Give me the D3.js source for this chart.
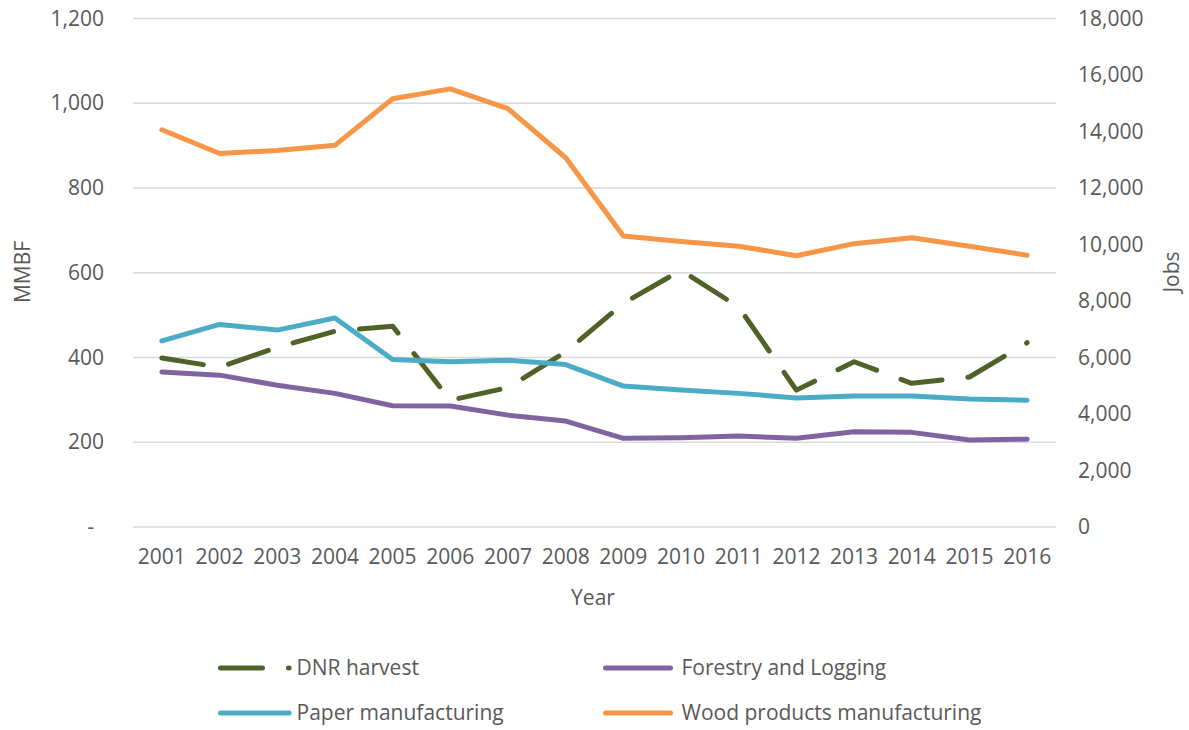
<!DOCTYPE html>
<html>
<head>
<meta charset="utf-8">
<script src="https://cdn.jsdelivr.net/npm/d3@7/dist/d3.min.js"></script>
<style>
  html, body { margin: 0; padding: 0; background: #fff; }
  svg text { font-family: "Open Sans", "Noto Sans", sans-serif; fill: #595959; }
</style>
</head>
<body>
<svg id="chart" width="1189" height="730"></svg>
<script>
// Years on the category axis
const years = ["2001","2002","2003","2004","2005","2006","2007","2008",
               "2009","2010","2011","2012","2013","2014","2015","2016"];

// DNR harvest volume, million board feet (left axis)
const dnrHarvest = [399, 377, 424, 462, 474, 299, 329, 413, 528, 606, 519, 323, 390, 339, 354, 435];

// Employment, jobs (right axis)
const forestryLogging = [5490, 5375, 5020, 4730, 4290, 4280, 3960, 3750, 3140, 3160, 3220, 3140, 3370, 3350, 3080, 3110];
const paperMfg        = [6590, 7170, 6970, 7400, 5930, 5850, 5900, 5750, 4990, 4850, 4730, 4570, 4640, 4640, 4530, 4490];
const woodProductsMfg = [14060, 13220, 13330, 13510, 15160, 15510, 14810, 13070, 10300, 10110, 9940, 9600, 10030, 10240, 9940, 9620];

// Axis ticks
const leftTicks  = [0, 200, 400, 600, 800, 1000, 1200];
const rightTicks = [0, 2000, 4000, 6000, 8000, 10000, 12000, 14000, 16000, 18000];

const FONT = 21;
const svg = d3.select("#chart");

const plot = { left: 133, right: 1056, top: 18.5, bottom: 527 };

const x = d3.scaleBand().domain(years).range([plot.left, plot.right]).padding(0);
const xc = d => x(d) + x.bandwidth() / 2;
const yL = d3.scaleLinear().domain([0, 1200]).range([plot.bottom, plot.top]);
const yR = d3.scaleLinear().domain([0, 18000]).range([plot.bottom, plot.top]);

// Horizontal gridlines
svg.append("g")
  .selectAll("line")
  .data(leftTicks)
  .join("line")
  .attr("x1", plot.left).attr("x2", plot.right)
  .attr("y1", d => yL(d)).attr("y2", d => yL(d))
  .attr("stroke", "#d9d9d9").attr("stroke-width", 1.3);

// Left axis (MMBF)
const leftAxis = d3.axisLeft(yL)
  .tickValues(leftTicks)
  .tickSize(0)
  .tickPadding(0)
  .tickFormat(d => d === 0 ? "-" : d3.format(",")(d));
const gL = svg.append("g").attr("transform", "translate(104,0)").call(leftAxis);
gL.select(".domain").remove();
gL.selectAll("text").attr("font-size", FONT).attr("fill", "#595959")
  .attr("dx", d => d === 0 ? -10 : 0);

// Right axis (Jobs)
const rightAxis = d3.axisRight(yR)
  .tickValues(rightTicks)
  .tickSize(0)
  .tickPadding(0)
  .tickFormat(d => d === 0 ? "0" : d3.format(",")(d));
const gR = svg.append("g").attr("transform", "translate(1078,0)").call(rightAxis);
gR.select(".domain").remove();
gR.selectAll("text").attr("font-size", FONT).attr("fill", "#595959");

// Bottom axis (years)
const bottomAxis = d3.axisBottom(x).tickSize(0).tickPadding(0);
const gB = svg.append("g").attr("transform", "translate(0,549)").call(bottomAxis);
gB.select(".domain").remove();
gB.selectAll("text").attr("font-size", FONT).attr("fill", "#595959");

// Axis titles
svg.append("text")
  .attr("transform", "translate(30,272) rotate(-90)")
  .attr("text-anchor", "middle")
  .attr("font-size", FONT)
  .text("MMBF");
svg.append("text")
  .attr("transform", "translate(1179,272) rotate(-90)")
  .attr("text-anchor", "middle")
  .attr("font-size", FONT)
  .text("Jobs");
svg.append("text")
  .attr("x", 593).attr("y", 605)
  .attr("text-anchor", "middle")
  .attr("font-size", FONT)
  .text("Year");

// Series definitions
const series = [
  { name: "DNR harvest", values: dnrHarvest, scale: yL, color: "#4f6228", dash: "42 26" },
  { name: "Forestry and Logging", values: forestryLogging, scale: yR, color: "#8064a2", dash: null },
  { name: "Paper manufacturing", values: paperMfg, scale: yR, color: "#4bacc6", dash: null },
  { name: "Wood products manufacturing", values: woodProductsMfg, scale: yR, color: "#f79646", dash: null }
];

const linesG = svg.append("g");
series.forEach(s => {
  const line = d3.line()
    .x((d, i) => xc(years[i]))
    .y(d => s.scale(d));
  linesG.append("path")
    .datum(s.values)
    .attr("d", line)
    .attr("fill", "none")
    .attr("stroke", s.color)
    .attr("stroke-width", 5)
    .attr("stroke-linejoin", "round")
    .attr("stroke-linecap", "round")
    .attr("stroke-dasharray", s.dash);
});

// Legend (two columns, two rows)
const legendPos = [
  { x: 220.5, y: 668 },
  { x: 605.5, y: 668 },
  { x: 220.5, y: 713 },
  { x: 605.5, y: 713 }
];
const swatchLen = [68.6, 65, 68.6, 65];
const legend = svg.append("g");
series.forEach((s, i) => {
  const p = legendPos[i];
  legend.append("line")
    .attr("x1", p.x).attr("x2", p.x + swatchLen[i])
    .attr("y1", p.y).attr("y2", p.y)
    .attr("stroke", s.color)
    .attr("stroke-width", 5)
    .attr("stroke-linecap", "round")
    .attr("stroke-dasharray", s.dash);
  legend.append("text")
    .attr("x", 220.5 + 68 + 8 + (i % 2) * 385)
    .attr("y", p.y)
    .attr("dy", "0.35em")
    .attr("font-size", FONT)
    .text(s.name);
});
</script>
</body>
</html>
